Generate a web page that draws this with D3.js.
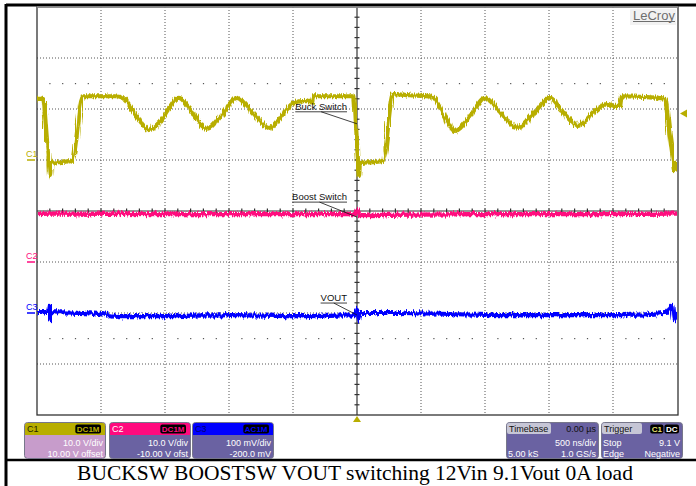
<!DOCTYPE html>
<html>
<head>
<meta charset="utf-8">
<script src="https://cdn.jsdelivr.net/npm/d3@7"></script>
<style>
	body { margin: 0; background: #fff; }
	svg { display: block; font-family: "Liberation Sans", Arial, sans-serif; }
	.grid { stroke: #555; stroke-width: 1; stroke-dasharray: 1,2; }
	.axis-line { stroke: #333; stroke-width: 1.2; }
	.box-text { fill: #fff; font-size: 9px; }
	.note { font-size: 9.5px; fill: #111; }
</style>
</head>
<body>
<svg id="scope-plot" width="696" height="486"></svg>
<script>

// C1 = buck switch node (V), C2 = boost switch node (V), C3 = VOUT ripple (mV), time in ns
const c1_time = [-2500, -2453, -2422, -2406, -2398, -2391, -2320, -2227, -2141, -2008, -1891, -1828,
	-1727, -1625, -1539, -1391, -1289, -1172, -1055, -938, -820, -680, -570, -484, -367, -352, -344,
	-211, -23, -8, 8, 16, 23, 117, 203, 281, 414, 586, 680, 766, 883, 1000, 1117, 1258, 1375, 1508,
	1609, 1727, 1836, 1953, 2016, 2055, 2070, 2211, 2406, 2438, 2469, 2477, 2500];
const c1_volts = [12.0, 12.0, 3.9, -1.0, -3.1, -0.6, -0.4, -0.2, 12.5, 12.5, 12.5, 12.2,
	8.8, 5.9, 7.5, 12.2, 9.4, 6.1, 9.0, 12.2, 9.4, 6.3, 9.2, 11.4, 11.6, 11.2, 12.5,
	12.5, 12.5, 6.9, -0.2, -3.1, -0.6, -0.4, -0.2, 12.9, 12.7, 12.4, 8.8, 5.7, 8.6, 12.2, 9.4, 6.3, 9.0, 12.2,
	9.4, 6.7, 9.0, 11.0, 10.6, 10.6, 12.5, 12.4, 12.0, 5.9, -0.2, -2.0, -0.4];

const c2_time = [-2500, -2400, -1500, -500, -10, 8, 20, 900, 1800, 2500];
const c2_volts = [9.4, 9.5, 9.4, 9.4, 9.4, 10.4, 9.2, 9.4, 9.4, 9.5];

const c3_time = [-2500, -2414, -2406, -2398, -2391, -2164, -2008, -1852, -1539, -992, -445, -16,
	0, 16, 31, 336, 1117, 1586, 2055, 2406, 2461, 2477, 2500];
const c3_mv = [2, 2, 14, -14, 2, 0, -2, -6, -6, -4, -6, -4,
	8, -14, 0, 0, -4, -4, -4, 0, 14, -14, 0];

// channel setup
const channel_names = ["C1", "C2", "C3"];
const channel_colors = ["#b8ae00", "#ff0a7e", "#0000ff"];
const volts_per_div = [10, 10, 100];
const channel_offset = [10, -10, -200];
const scale_labels = ["10.0 V/div", "10.0 V/div", "100 mV/div"];
const offset_labels = ["10.00 V offset", "-10.00 V ofst", "-200.0 mV"];
const coupling_labels = ["DC1M", "DC1M", "AC1M"];

const time_per_div = 500;
const trigger_level = 9.1;

const note_labels = ["Buck Switch", "Boost Switch", "VOUT"];
const note_values = [7.1, 8.8, -4];

const caption = "BUCKSW BOOSTSW VOUT switching 12Vin 9.1Vout 0A load";

function drawScope() {
	const svg = d3.select('#scope-plot');
	const left = 37, right = 677, top = 7, bottom = 415;
	const h_divs = 10, v_divs = 8;

	const x = d3.scaleLinear()
		.domain([-h_divs / 2 * time_per_div, h_divs / 2 * time_per_div])
		.range([left, right]);

	const y_scales = volts_per_div.map((vd, i) => d3.scaleLinear()
		.domain([-v_divs / 2 * vd - channel_offset[i], v_divs / 2 * vd - channel_offset[i]])
		.range([bottom, top]));

	const div_w = (right - left) / h_divs;
	const div_h = (bottom - top) / v_divs;

	// noise filters so the traces look like sampled data
	const defs = svg.append('defs');
	function noiseFilter(id, freq, scale, seed) {
		const f = defs.append('filter')
			.attr('id', id)
			.attr('filterUnits', 'userSpaceOnUse')
			.attr('x', 0).attr('y', 0).attr('width', 696).attr('height', 486);
		f.append('feTurbulence')
			.attr('type', 'fractalNoise')
			.attr('baseFrequency', freq)
			.attr('numOctaves', 2)
			.attr('seed', seed)
			.attr('result', 'n');
		f.append('feDisplacementMap')
			.attr('in', 'SourceGraphic')
			.attr('in2', 'n')
			.attr('scale', scale)
			.attr('xChannelSelector', 'R')
			.attr('yChannelSelector', 'G');
	}
	noiseFilter('trace-noise', '0.9 0.03', 6, 4);
	noiseFilter('spike-noise', '1.2 0.02', 11, 9);

	defs.append('clipPath').attr('id', 'plot-clip')
		.append('rect')
		.attr('x', left).attr('y', top - 2)
		.attr('width', right - left).attr('height', bottom - top + 4);

	// outer frame
	svg.append('line').attr('x1', 6).attr('x2', 696).attr('y1', 5).attr('y2', 5)
		.style('stroke', '#000').style('stroke-width', 3);
	svg.append('line').attr('x1', 6).attr('x2', 6).attr('y1', 4).attr('y2', 486)
		.style('stroke', '#000').style('stroke-width', 3);
	svg.append('line').attr('x1', 6).attr('x2', 696).attr('y1', 460).attr('y2', 460)
		.style('stroke', '#000').style('stroke-width', 2.5);

	// graticule
	const grid = svg.append('g');
	d3.range(1, h_divs).filter(i => i !== h_divs / 2).forEach(i => {
		grid.append('line').attr('class', 'grid')
			.attr('x1', left + i * div_w).attr('x2', left + i * div_w)
			.attr('y1', top).attr('y2', bottom);
	});
	d3.range(1, v_divs).filter(j => j !== v_divs / 2).forEach(j => {
		grid.append('line').attr('class', 'grid')
			.attr('x1', left).attr('x2', right)
			.attr('y1', top + j * div_h).attr('y2', top + j * div_h);
	});

	// sparse dotted rows at 1.5 and 6.5 divisions
	[1.5, 6.5].forEach(j => {
		grid.selectAll(null)
			.data(d3.range(1, h_divs * 5).filter(k => k % 5 !== 0))
			.enter()
			.append('rect')
				.attr('x', k => left + k * div_w / 5 - 0.5)
				.attr('y', top + j * div_h - 0.5)
				.attr('width', 1.2).attr('height', 1.2)
				.style('fill', '#555');
	});

	// centre axes with minor ticks
	const cx = left + h_divs / 2 * div_w, cy = top + v_divs / 2 * div_h;
	grid.append('line').attr('class', 'axis-line')
		.attr('x1', cx).attr('x2', cx).attr('y1', top).attr('y2', bottom);
	grid.append('line').attr('class', 'axis-line')
		.attr('x1', left).attr('x2', right).attr('y1', cy).attr('y2', cy);
	d3.range(1, v_divs * 5).forEach(k => {
		grid.append('line').attr('class', 'axis-line')
			.attr('x1', cx - 2.5).attr('x2', cx + 2.5)
			.attr('y1', top + k * div_h / 5).attr('y2', top + k * div_h / 5);
	});
	d3.range(1, h_divs * 5).forEach(k => {
		grid.append('line').attr('class', 'axis-line')
			.attr('x1', left + k * div_w / 5).attr('x2', left + k * div_w / 5)
			.attr('y1', cy - 2.5).attr('y2', cy + 2.5);
	});

	grid.append('rect')
		.attr('x', left).attr('y', top)
		.attr('width', right - left + 1).attr('height', bottom - top)
		.style('fill', 'none').style('stroke', '#333').style('stroke-width', 1.3);
	grid.append('line')
		.attr('x1', left).attr('x2', right + 1).attr('y1', top).attr('y2', top)
		.style('stroke', '#999').style('stroke-width', 1.3);

	// LeCroy logo
	svg.append('rect').attr('x', 630).attr('y', 9).attr('width', 46).attr('height', 16)
		.style('fill', '#f2f2f2');
	svg.append('text').attr('x', 633).attr('y', 19.5)
		.style('font-size', '13px').style('fill', '#6e6e6e')
		.text('LeCroy');
	svg.append('line').attr('x1', 633).attr('x2', 675).attr('y1', 21.5).attr('y2', 21.5)
		.style('stroke', '#6e6e6e').style('stroke-width', 1);

	// traces
	const series = [d3.zip(c1_time, c1_volts), d3.zip(c2_time, c2_volts), d3.zip(c3_time, c3_mv)];
	const traces = svg.append('g').attr('clip-path', 'url(#plot-clip)');
	series.forEach((data, i) => {
		const line = d3.line()
			.x(d => x(d[0]))
			.y(d => y_scales[i](d[1]))
			.curve(d3.curveMonotoneX);
		traces.append('path')
			.attr('d', line(data))
			.attr('filter', 'url(#spike-noise)')
			.style('fill', 'none')
			.style('stroke', channel_colors[i])
			.style('stroke-opacity', 0.55)
			.style('stroke-width', 1.6);
		traces.append('path')
			.attr('d', line(data))
			.attr('filter', 'url(#trace-noise)')
			.style('fill', 'none')
			.style('stroke', channel_colors[i])
			.style('stroke-width', 4.2)
			.style('stroke-linejoin', 'round');
	});

	// channel ground markers
	channel_names.forEach((name, i) => {
		const gy = y_scales[i](0);
		svg.append('line')
			.attr('x1', 27).attr('x2', 35).attr('y1', gy).attr('y2', gy)
			.style('stroke', channel_colors[i]).style('stroke-width', 1.5);
		svg.append('text')
			.attr('x', 26).attr('y', gy - 3)
			.style('font-size', '9px').style('fill', channel_colors[i])
			.text(name);
	});

	// trigger markers
	const tl = y_scales[0](trigger_level);
	svg.append('path')
		.attr('d', `M${right + 3},${tl} l7,-4 l0,8 z`)
		.style('fill', channel_colors[0]);
	svg.append('path')
		.attr('d', `M${x(0)},${bottom + 1} l-4,6 l8,0 z`)
		.style('fill', channel_colors[0]);

	// trace annotations
	const note_dy = [-14, -17, -14];
	note_labels.forEach((label, i) => {
		const ax = x(0), ay = y_scales[i](note_values[i]);
		const t = svg.append('text').attr('class', 'note')
			.attr('x', ax - 10).attr('y', ay + note_dy[i])
			.attr('text-anchor', 'end')
			.text(label);
		const w = t.node().getComputedTextLength();
		const uy = ay + note_dy[i] + 2;
		svg.append('line')
			.attr('x1', ax - 10 - w).attr('x2', ax - 10).attr('y1', uy).attr('y2', uy)
			.style('stroke', '#111').style('stroke-width', 0.8);
		svg.append('line')
			.attr('x1', ax - 10 - w / 2).attr('x2', ax).attr('y1', uy).attr('y2', ay)
			.style('stroke', '#111').style('stroke-width', 0.8);
	});

	// channel info boxes
	const box_left = [24, 109, 192];
	const body_colors = ["#c79ccb", "#6a62a2", "#6a62a2"];
	const head_text = ["#222200", "#ffffff", "#000070"];
	channel_names.forEach((name, i) => {
		const g = svg.append('g').attr('transform', `translate(${box_left[i]},422)`);
		drawPanel(g, 81, body_colors[i], channel_colors[i]);
		g.append('text').attr('x', 3).attr('y', 10)
			.style('font-size', '9px').style('fill', head_text[i])
			.text(name);
		drawBadge(g, 80 - 3, 2.5, [[coupling_labels[i], channel_colors[i]]]);
		g.append('text').attr('class', 'box-text')
			.attr('x', 79).attr('y', 24).attr('text-anchor', 'end')
			.text(scale_labels[i]);
		g.append('text').attr('class', 'box-text')
			.attr('x', 79).attr('y', 34.5).attr('text-anchor', 'end')
			.text(offset_labels[i]);
	});

	// timebase box
	const tb = svg.append('g').attr('transform', 'translate(506,422)');
	drawPanel(tb, 92, "#6a62a2", null);
	tb.append('rect').attr('x', 1).attr('y', 1).attr('width', 44).attr('height', 11).attr('rx', 2)
		.style('fill', '#c6c6d6');
	tb.append('text').attr('x', 3).attr('y', 10).style('font-size', '9px').style('fill', '#111').text('Timebase');
	tb.append('text').attr('x', 90).attr('y', 10).attr('text-anchor', 'end')
		.style('font-size', '9px').style('fill', '#111').text('0.00 µs');
	tb.append('text').attr('class', 'box-text').attr('x', 90).attr('y', 23.5).attr('text-anchor', 'end')
		.text(time_per_div + ' ns/div');
	tb.append('text').attr('class', 'box-text').attr('x', 2).attr('y', 34.5).text('5.00 kS');
	tb.append('text').attr('class', 'box-text').attr('x', 90).attr('y', 34.5).attr('text-anchor', 'end')
		.text('1.0 GS/s');

	// trigger box
	const tr = svg.append('g').attr('transform', 'translate(601,422)');
	drawPanel(tr, 81, "#6a62a2", null);
	tr.append('rect').attr('x', 1).attr('y', 1).attr('width', 40).attr('height', 11).attr('rx', 2)
		.style('fill', '#c6c6d6');
	tr.append('text').attr('x', 3).attr('y', 10).style('font-size', '9px').style('fill', '#111').text('Trigger');
	drawBadge(tr, 79 - 1, 2.5, [["C1", "#e8e070"], ["DC", "#ffffff"]]);
	tr.append('text').attr('class', 'box-text').attr('x', 2).attr('y', 23.5).text('Stop');
	tr.append('text').attr('class', 'box-text').attr('x', 79).attr('y', 23.5).attr('text-anchor', 'end')
		.text(trigger_level + ' V');
	tr.append('text').attr('class', 'box-text').attr('x', 2).attr('y', 34.5).text('Edge');
	tr.append('text').attr('class', 'box-text').attr('x', 79).attr('y', 34.5).attr('text-anchor', 'end')
		.text('Negative');

	// caption
	svg.append('text')
		.attr('x', 355).attr('y', 480)
		.attr('text-anchor', 'middle')
		.style('font-family', '"Liberation Serif", "Times New Roman", serif')
		.style('font-size', '21.5px')
		.style('fill', '#000')
		.text(caption);
}

function drawPanel(g, w, body, head) {
	g.append('rect')
		.attr('x', 0.5).attr('y', 0.5).attr('width', w).attr('height', 36).attr('rx', 3)
		.style('fill', body).style('stroke', '#77778a').style('stroke-width', 1);
	if (head) {
		g.append('path')
			.attr('d', `M1,13 L1,3.5 Q1,1 3.5,1 L${w - 2.5},1 Q${w},1 ${w},3.5 L${w},13 Z`)
			.style('fill', head);
	}
}

// black rounded label(s), right aligned at xr
function drawBadge(g, xr, yt, parts) {
	let xpos = xr;
	parts.slice().reverse().forEach(p => {
		const t = g.append('text')
			.attr('y', yt + 7.5)
			.style('font-size', '8px').style('font-weight', 'bold')
			.style('fill', p[1])
			.text(p[0]);
		const w = t.node().getComputedTextLength();
		t.attr('x', xpos - w - 1.5);
		g.insert('rect', 'text')
			.attr('x', xpos - w - 3).attr('y', yt)
			.attr('width', w + 3).attr('height', 9).attr('rx', 2)
			.style('fill', '#000');
		xpos -= w + 4;
	});
}

function whenDocumentLoaded(action) {
	if (document.readyState === "loading") {
		document.addEventListener("DOMContentLoaded", action);
	} else {
		action();
	}
}

whenDocumentLoaded(drawScope);
</script>
</body>
</html>
